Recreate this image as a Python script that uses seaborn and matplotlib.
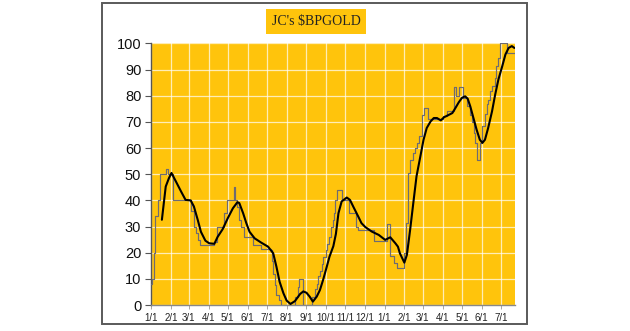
import matplotlib
matplotlib.use("Agg")
import matplotlib.pyplot as plt
import matplotlib.dates as mdates
from matplotlib.patches import Rectangle
from matplotlib.ticker import FuncFormatter
import pandas as pd
import seaborn as sns

# Daily bullish-percent readings (value holds until the next date)
bp_dates = [
    "2015-01-01", "2015-01-02", "2015-01-05", "2015-01-07", "2015-01-12", "2015-01-15",
    "2015-01-24", "2015-01-28", "2015-02-05", "2015-03-05", "2015-03-09", "2015-03-13",
    "2015-03-16", "2015-03-18", "2015-04-10", "2015-04-14", "2015-04-25", "2015-04-30",
    "2015-05-11", "2015-05-13", "2015-05-15", "2015-05-19", "2015-05-22", "2015-05-26",
    "2015-06-09", "2015-06-22", "2015-07-07", "2015-07-09", "2015-07-10", "2015-07-14",
    "2015-07-16", "2015-07-20", "2015-07-23", "2015-08-14", "2015-08-18", "2015-08-21",
    "2015-08-26", "2015-09-09", "2015-09-14", "2015-09-17", "2015-09-19", "2015-09-22",
    "2015-09-25", "2015-09-27", "2015-10-01", "2015-10-03", "2015-10-07", "2015-10-09",
    "2015-10-12", "2015-10-14", "2015-10-16", "2015-10-19", "2015-10-26", "2015-11-06",
    "2015-11-18", "2015-11-20", "2015-12-15", "2016-01-05", "2016-01-10", "2016-01-16",
    "2016-01-21", "2016-02-01", "2016-02-04", "2016-02-06", "2016-02-10", "2016-02-14",
    "2016-02-18", "2016-02-21", "2016-02-24", "2016-02-28", "2016-03-02", "2016-03-09",
    "2016-04-01", "2016-04-07", "2016-04-19", "2016-04-21", "2016-04-27", "2016-05-02",
    "2016-05-09", "2016-05-13", "2016-05-16", "2016-05-20", "2016-05-22", "2016-05-24",
    "2016-05-29", "2016-06-02", "2016-06-06", "2016-06-09", "2016-06-11", "2016-06-14",
    "2016-06-17", "2016-06-21", "2016-06-24", "2016-06-27", "2016-06-30", "2016-07-11",
    "2016-07-23",
]
bp_values = [
    8, 10, 20, 34, 40, 50,
    52, 50, 40, 36, 30, 27.5,
    25, 23, 24, 30, 35, 40,
    45, 40, 37.5, 32.5, 30, 26,
    23, 21.5, 21, 17, 12, 7.7,
    4, 2, 0, 3, 7, 10,
    0, 3, 6, 8, 11, 13,
    15.5, 18.5, 21, 23.5, 26, 30,
    32.5, 35, 40, 44, 40, 35,
    30, 28.5, 24.3, 31, 18.8, 16,
    14, 19.8, 31.3, 50.4, 55.6, 58,
    60, 62, 64.5, 72.8, 75.4, 71,
    72.4, 74, 83.4, 79.8, 83.4, 79.2,
    76, 72.8, 70, 65.8, 62, 55.6,
    62, 68.3, 73, 77, 78.5, 81.7,
    83.6, 86.9, 91.3, 94.5, 100, 96.4,
    96.4,
]

# Smoothed average of the index
ma_dates = [
    "2015-01-18", "2015-01-24", "2015-01-29", "2015-02-02", "2015-02-09", "2015-02-17",
    "2015-02-24", "2015-03-04", "2015-03-09", "2015-03-15", "2015-03-20", "2015-03-27",
    "2015-04-02", "2015-04-10", "2015-04-15", "2015-04-23", "2015-05-01", "2015-05-09",
    "2015-05-16", "2015-05-19", "2015-05-25", "2015-05-30", "2015-06-04", "2015-06-12",
    "2015-06-22", "2015-07-03", "2015-07-11", "2015-07-16", "2015-07-21", "2015-07-27",
    "2015-08-01", "2015-08-07", "2015-08-14", "2015-08-22", "2015-08-27", "2015-09-01",
    "2015-09-06", "2015-09-11", "2015-09-17", "2015-09-22", "2015-09-27", "2015-10-02",
    "2015-10-07", "2015-10-13", "2015-10-17", "2015-10-21", "2015-10-26", "2015-11-03",
    "2015-11-08", "2015-11-13", "2015-11-21", "2015-11-26", "2015-12-02", "2015-12-12",
    "2015-12-23", "2016-01-02", "2016-01-10", "2016-01-18", "2016-01-22", "2016-01-25",
    "2016-02-01", "2016-02-05", "2016-02-10", "2016-02-15", "2016-02-20", "2016-02-26",
    "2016-03-02", "2016-03-07", "2016-03-13", "2016-03-18", "2016-03-23", "2016-03-29",
    "2016-04-03", "2016-04-08", "2016-04-16", "2016-04-21", "2016-04-26", "2016-05-01",
    "2016-05-06", "2016-05-10", "2016-05-14", "2016-05-19", "2016-05-24", "2016-05-29",
    "2016-06-02", "2016-06-06", "2016-06-11", "2016-06-17", "2016-06-22", "2016-06-27",
    "2016-07-03", "2016-07-08", "2016-07-13", "2016-07-18", "2016-07-22",
]
ma_values = [
    32.6, 45.3, 48.5, 50.5, 47.2, 43.4,
    40.2, 40, 37.7, 32.6, 28, 24.6,
    23.6, 23.4, 26, 29, 33.2, 37,
    39.3, 39, 35.1, 31.3, 28, 25.5,
    23.9, 22.3, 19.8, 14.7, 8.9, 4.5,
    1.7, 0.4, 1.5, 4.2, 5.2, 4.7,
    3.2, 1.3, 3.2, 5.7, 9.6, 14,
    18.5, 22.5, 27.2, 35.1, 39.6, 41.1,
    40.2, 37.7, 33.8, 31.3, 29.8, 28.1,
    26.8, 24.9, 25.9, 23.6, 22.3, 19.8,
    16.2, 19.2, 28.7, 39, 49.2, 56.8,
    63.2, 67.7, 70.2, 71.5, 71.5, 70.6,
    71.8, 72.4, 73.4, 75.4, 77.5, 79.2,
    79.8, 78.9, 76, 71.5, 67, 63.2,
    62, 63.2, 67.7, 74, 80.5, 86.2,
    91.3, 95.8, 98.3, 99, 98.3,
]

y_ticks = list(range(0, 101, 10))
title_text = "JC's $BPGOLD"

bp = pd.DataFrame({"date": pd.to_datetime(bp_dates), "value": bp_values})
ma = pd.DataFrame({"date": pd.to_datetime(ma_dates), "value": ma_values})

sns.set_theme(style="white")
plt.rcParams["font.family"] = ["Liberation Sans", "DejaVu Sans"]

fig = plt.figure(figsize=(6.3, 3.31), dpi=100)
fig.patch.set_facecolor("white")

# outer frame around the chart
fig.patches.append(Rectangle((0.162, 0.021), 0.675, 0.970, transform=fig.transFigure,
                             fill=False, edgecolor="#5a5a5a", linewidth=1.4))

ax = fig.add_axes([0.2397, 0.0785, 0.5778, 0.7901])
ax.set_facecolor("#FFC40C")

sns.lineplot(data=bp, x="date", y="value", ax=ax, color="#6e6b72",
             linewidth=0.85, drawstyle="steps-post", zorder=3)
sns.lineplot(data=ma, x="date", y="value", ax=ax, color="black",
             linewidth=1.5, zorder=4)

ax.set_xlim(pd.Timestamp("2015-01-01"), pd.Timestamp("2016-07-23"))
ax.set_ylim(0, 100)
ax.set_yticks(y_ticks)
ax.xaxis.set_major_locator(mdates.MonthLocator())
ax.xaxis.set_major_formatter(FuncFormatter(
    lambda v, pos: f"{mdates.num2date(v).month}/{mdates.num2date(v).day}"))

ax.grid(True, color="white", linewidth=0.9, alpha=0.7, zorder=1)
ax.set_axisbelow(True)
for side in ("top", "right"):
    ax.spines[side].set_visible(False)
ax.spines["left"].set_color("#555555")
ax.spines["bottom"].set_color("#888888")
ax.spines["left"].set_linewidth(1.0)
ax.spines["bottom"].set_linewidth(1.0)

ax.tick_params(axis="y", which="major", left=True, length=4, width=0.8,
               color="#555555", labelsize=10.5, pad=3, labelcolor="#111111")
ax.tick_params(axis="x", which="major", bottom=True, length=3, width=0.6,
               color="#999999", labelsize=7, pad=3, labelcolor="#222222")
ax.set_xlabel("")
ax.set_ylabel("")
legend = ax.get_legend()
if legend is not None:
    legend.remove()

fig.text(0.5016, 0.935, title_text, ha="center", va="center", fontsize=10,
         family=["Liberation Serif", "DejaVu Serif"], color="#222222",
         bbox=dict(boxstyle="square,pad=0.42", facecolor="#FFC40C", edgecolor="none"))

fig.savefig("out.png", dpi=100)
